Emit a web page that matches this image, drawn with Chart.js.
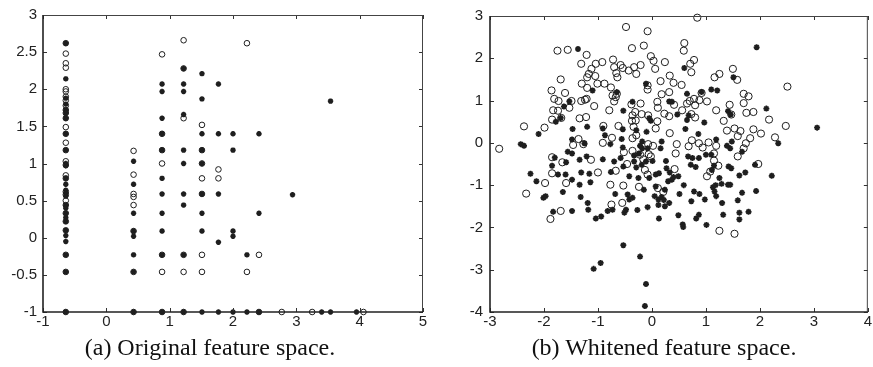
<!DOCTYPE html>
<html>
<head>
<meta charset="utf-8">
<script src="https://cdn.jsdelivr.net/npm/chart.js@4/dist/chart.umd.min.js"></script>
<style>
  html, body { margin: 0; padding: 0; background: #fff; }
  #wrap { position: relative; width: 873px; height: 367px; overflow: hidden; background: #fff; }
  canvas { position: absolute; top: 0; }
  .cap { position: absolute; top: 335px; width: 400px; text-align: center; font-family: "Liberation Serif", "Times New Roman", serif; font-size: 24px; line-height: 24px; color: #111; white-space: nowrap; }
</style>
</head>
<body>
<div id="wrap">
  <canvas id="c1" width="440" height="335" style="left:0px"></canvas>
  <canvas id="c2" width="433" height="335" style="left:440px"></canvas>
  <div class="cap" style="left:10px">(a) Original feature space.</div>
  <div class="cap" style="left:464px">(b) Whitened feature space.</div>
</div>
<script>
// ---------- tick labels ----------
const origXTicks = [-1, 0, 1, 2, 3, 4, 5];
const origYTicks = [-1, -0.5, 0, 0.5, 1, 1.5, 2, 2.5, 3];
const whitXTicks = [-3, -2, -1, 0, 1, 2, 3, 4];
const whitYTicks = [-4, -3, -2, -1, 0, 1, 2, 3];

// ---------- (a) original feature space : class "o" ----------
const origCircles = [
  [-0.64,2.62],[-0.64,2.48],[-0.64,2.35],[-0.64,2.29],[-0.64,2.0],[-0.64,1.97],[-0.64,1.90],[-0.64,1.85],
  [-0.64,1.78],[-0.64,1.72],[-0.64,1.68],[-0.64,1.61],[-0.64,1.49],[-0.64,1.40],[-0.64,1.28],[-0.64,1.18],
  [-0.64,1.03],[-0.64,0.98],[-0.64,0.84],[-0.64,0.80],[-0.64,0.62],[-0.64,0.58],[-0.64,0.50],[-0.64,0.44],
  [-0.64,0.33],[-0.64,0.22],[-0.64,0.10],[-0.64,-0.23],[-0.64,-0.46],[-0.64,-1.0],
  [0.43,1.17],[0.43,0.85],[0.43,0.59],[0.43,0.55],[0.43,0.44],[0.43,0.09],[0.43,-0.46],[0.43,-1.0],
  [0.88,2.47],[0.88,1.40],[0.88,1.18],[0.88,1.0],[0.88,-0.23],[0.88,-0.46],[0.88,-1.0],
  [1.22,2.66],[1.22,2.28],[1.22,1.61],[1.22,-0.23],[1.22,-0.46],[1.22,-1.0],
  [1.51,1.52],[1.51,1.18],[1.51,1.0],[1.51,0.80],[1.51,0.59],[1.51,-0.23],[1.51,-0.46],
  [1.77,0.92],[1.77,0.80],
  [2.22,2.62],[2.22,-0.46],
  [2.41,-0.23],[2.41,-1.0],
  [2.77,-1.0],[3.25,-1.0],[4.06,-1.0]
];
// ---------- (a) original feature space : class "*" ----------
const origStars = [
  [-0.64,2.62],[-0.64,2.14],[-0.64,1.88],[-0.64,1.80],[-0.64,1.72],[-0.64,1.68],[-0.64,1.61],[-0.64,1.40],
  [-0.64,1.18],[-0.64,1.0],[-0.64,0.97],[-0.64,0.80],[-0.64,0.72],[-0.64,0.64],[-0.64,0.60],[-0.64,0.56],
  [-0.64,0.44],[-0.64,0.40],[-0.64,0.33],[-0.64,0.27],[-0.64,0.22],[-0.64,0.10],[-0.64,0.03],[-0.64,-0.05],
  [-0.64,-0.23],[-0.64,-0.46],[-0.64,-1.0],
  [0.43,1.03],[0.43,0.72],[0.43,0.33],[0.43,0.09],[0.43,0.02],[0.43,-0.23],[0.43,-0.46],[0.43,-1.0],
  [0.88,2.07],[0.88,1.97],[0.88,1.61],[0.88,1.40],[0.88,1.18],[0.88,0.80],[0.88,0.59],[0.88,0.33],
  [0.88,0.09],[0.88,-0.23],[0.88,-1.0],
  [1.22,2.28],[1.22,2.07],[1.22,1.97],[1.22,1.66],[1.22,1.18],[1.22,1.0],[1.22,0.59],[1.22,0.44],
  [1.22,-0.23],[1.22,-1.0],
  [1.51,2.21],[1.51,1.87],[1.51,1.40],[1.51,1.18],[1.51,1.0],[1.51,0.59],[1.51,0.33],[1.51,0.09],[1.51,-1.0],
  [1.77,2.07],[1.77,1.40],[1.77,0.59],[1.77,-0.06],[1.77,-1.0],
  [2.0,1.40],[2.0,1.18],[2.0,0.09],[2.0,0.02],[2.0,-1.0],
  [2.22,-0.23],[2.22,-1.0],
  [2.41,1.40],[2.41,0.33],[2.41,-1.0],
  [2.94,0.58],[3.40,-1.0],[3.54,1.84],[3.54,-1.0],[3.95,-1.0]
];

// ---------- (b) whitened feature space : class "o" ----------
const whitCircles = [
  [0.84,2.96],[-0.48,2.74],[-0.08,2.64],[-0.15,2.30],[-0.37,2.24],[0.60,2.36],[0.59,2.18],[-1.75,2.18],
  [-1.56,2.20],[-1.21,2.08],[-0.02,2.05],[0.03,1.94],[-0.72,1.97],[-1.31,1.87],[-1.04,1.87],[-0.92,1.91],
  [-0.70,1.79],[-0.58,1.84],[-0.54,1.77],[-0.43,1.71],[-0.33,1.79],[-0.21,1.84],[-0.29,1.63],[0.06,1.75],
  [0.24,1.91],[0.71,1.87],[0.78,1.96],[0.73,1.67],[0.33,1.59],[-0.66,1.65],[-0.64,1.55],[-1.12,1.75],
  [-1.05,1.58],[-1.17,1.63],[-1.20,1.55],[-1.69,1.50],[-1.30,1.40],[-1.20,1.30],[-1.01,1.40],[-0.88,1.40],
  [-0.76,1.31],[-0.73,1.12],[-0.70,0.98],[-0.65,1.16],[-0.67,1.08],[0.16,1.46],[0.40,1.42],[0.55,1.37],
  [-0.08,1.36],[-0.08,1.26],[0.18,1.15],[0.32,1.20],[-1.86,1.24],[-1.61,1.18],[-1.81,1.04],[-1.73,0.99],
  [-1.83,0.77],[-1.74,0.76],[-1.85,0.55],[-1.68,0.59],[-2.37,0.39],[-1.99,0.36],[-1.53,0.83],[-1.49,0.99],
  [-1.31,0.99],[-1.24,1.02],[-1.21,1.04],[-1.22,0.61],[-1.34,0.58],[-1.07,0.87],[-0.79,0.77],[-0.38,0.91],
  [-0.21,0.93],[-0.19,0.68],[-0.36,0.65],[-0.31,0.73],[-0.37,0.52],[-0.30,0.53],[-0.34,0.38],[-0.29,0.18],
  [-0.36,0.11],[-0.07,0.65],[0.10,0.51],[0.07,0.34],[0.10,0.97],[0.11,0.83],[0.23,0.69],[0.32,0.63],
  [0.41,0.90],[0.33,0.23],[0.56,0.77],[0.65,0.93],[0.70,0.99],[0.78,1.04],[0.88,1.01],[0.80,0.89],
  [0.73,0.68],[0.80,0.60],[1.02,0.98],[0.92,1.18],[1.16,1.55],[1.25,1.63],[1.50,1.75],[1.58,1.49],
  [1.70,1.16],[1.79,1.10],[1.70,0.94],[1.75,0.71],[1.88,0.73],[1.44,0.90],[1.47,0.67],[1.33,0.52],
  [1.19,0.77],[1.39,0.29],[1.53,0.34],[1.64,0.28],[1.59,0.16],[1.88,0.32],[2.02,0.22],[1.74,-0.01],
  [1.70,-0.13],[1.59,-0.32],[2.17,0.55],[2.51,1.33],[2.48,0.40],[2.28,0.13],[1.82,0.11],[1.97,-0.50],
  [-2.83,-0.14],[-0.91,0.0],[-0.90,0.40],[-1.36,0.09],[-1.27,-0.03],[-1.46,-0.05],[-0.74,0.12],[-0.62,0.40],
  [-0.07,-0.03],[0.02,-0.07],[-0.06,-0.27],[-0.02,-0.32],[-0.16,-0.39],[-0.22,-0.28],[-0.13,-0.64],[-0.08,-0.75],
  [0.46,-0.03],[0.44,-0.25],[0.68,-0.08],[0.74,0.06],[0.87,-0.01],[0.94,-0.11],[1.05,0.01],[1.19,-0.07],
  [1.15,-0.25],[1.15,-0.42],[1.23,-0.54],[1.02,-0.79],[1.08,-0.68],[0.42,-0.62],[-1.85,-0.34],[-1.66,-0.46],
  [-1.85,-0.72],[-1.59,-0.95],[-1.98,-0.95],[-2.33,-1.20],[-1.69,-1.61],[-1.88,-1.80],[-1.00,-0.70],[-1.13,-0.40],
  [-0.67,-0.66],[-0.46,-0.50],[-0.53,-1.01],[-0.77,-0.99],[-0.24,-1.04],[0.11,-1.07],[0.21,-1.16],[-0.75,-1.46],
  [-0.55,-1.42],[1.25,-2.08],[1.53,-2.15],[-0.36,-0.19],[-0.52,-0.22]
];
// ---------- (b) whitened feature space : class "*" ----------
const whitStars = [
  [-1.37,2.22],[1.94,2.26],[0.60,1.77],[-0.11,1.40],[-1.10,1.24],[-0.65,1.20],[0.32,0.98],[0.65,1.16],
  [0.92,1.20],[1.10,1.26],[1.21,1.24],[1.51,1.55],[-0.36,0.97],[-0.53,0.76],[-1.63,0.86],[-1.53,0.98],
  [-1.69,0.59],[-1.78,0.50],[-2.10,0.21],[-2.43,-0.03],[-2.37,-0.07],[-1.47,0.33],[-1.20,0.38],[-0.91,0.34],
  [-0.87,0.18],[-0.54,0.32],[-0.29,0.30],[-0.56,0.09],[-0.77,-0.03],[-0.54,-0.11],[-1.48,0.08],[-1.25,-0.01],
  [-1.48,-0.25],[-1.56,-0.21],[-1.34,-0.40],[-1.21,-0.32],[-1.80,-0.35],[-1.59,-0.46],[-1.85,-0.54],[-2.25,-0.73],
  [-2.14,-0.91],[-2.01,-1.30],[-1.97,-1.26],[-1.83,-1.63],[-1.74,-0.75],[-1.60,-0.75],[-1.48,-0.87],[-1.34,-0.99],
  [-1.32,-1.28],[-1.65,-1.16],[-1.48,-1.61],[-1.19,-1.42],[-1.18,-1.58],[-1.31,-0.70],[-1.16,-0.73],[-1.14,-0.93],
  [-1.04,-1.79],[-0.94,-1.74],[-0.82,-1.61],[-0.73,-1.58],[-0.91,-0.39],[-0.76,-0.69],[-0.70,-0.44],[-0.58,-0.36],
  [-0.53,-0.56],[-0.42,-0.79],[-0.42,-1.34],[-0.36,-1.30],[-0.45,-1.22],[-0.51,-1.65],[-0.48,-1.58],[-0.27,-1.59],
  [-0.15,-1.11],[-0.33,-0.44],[-0.29,-0.58],[-0.25,-0.83],[-0.19,-0.52],[-0.18,-0.13],[-0.08,-0.13],[-0.11,-0.44],
  [0.01,-0.43],[-0.05,-0.83],[0.07,-0.75],[0.13,-0.72],[0.16,-0.13],[0.18,0.03],[0.05,-1.26],[0.12,-1.34],
  [0.12,-1.47],[0.13,-1.79],[-0.08,-1.52],[0.26,-0.43],[0.27,-0.60],[0.33,-0.70],[0.37,-0.87],[0.49,-0.79],
  [0.32,-1.42],[0.24,-1.11],[0.51,-1.21],[0.49,-1.71],[0.57,-1.93],[0.58,-1.99],[0.59,-1.00],[0.73,-1.38],
  [0.82,-1.79],[0.87,-1.70],[0.78,-1.15],[0.88,-1.21],[0.98,-1.34],[1.01,-1.94],[1.13,-1.05],[1.18,-1.00],
  [1.16,-1.15],[1.19,-1.26],[1.30,-1.42],[1.32,-1.70],[1.29,-0.97],[1.25,-0.83],[1.41,-0.99],[1.45,-0.99],
  [1.59,-1.36],[1.62,-1.65],[1.62,-1.81],[1.67,-1.18],[1.79,-1.63],[1.93,-1.14],[1.73,-0.70],[1.62,-0.77],
  [2.22,-0.78],[2.34,-0.01],[2.12,0.81],[3.06,0.36],[1.91,-0.52],[1.67,-0.21],[1.45,-0.13],[1.48,0.03],
  [1.39,-0.07],[1.42,-0.56],[1.47,-0.60],[1.41,0.75],[1.46,0.67],[1.19,0.08],[1.10,-0.28],[1.15,-0.54],
  [1.11,-0.64],[1.00,-0.28],[0.87,-0.36],[0.81,-0.57],[0.72,-0.52],[0.67,-0.32],[0.75,-0.36],[0.97,0.48],
  [0.86,0.21],[0.65,0.54],[0.62,0.33],[0.68,0.65],[0.37,0.97],[0.47,0.67],[-0.10,0.26],[-0.05,0.58],
  [-0.02,0.52],[-0.18,0.03],[-0.22,-0.07],[-0.24,-0.25],[-0.33,-0.30],[-0.68,-1.21],[-0.53,-2.42],[-0.22,-2.69],
  [-0.95,-2.84],[-1.08,-2.98],[-0.11,-3.34],[-0.13,-3.86],[0.24,-1.50],[0.30,-0.91],[0.40,-0.81],[0.07,-1.03],
  [0.18,-1.28],[0.22,-1.35]
];

const toPts = arr => arr.map(p => ({x: p[0], y: p[1]}));
const INK = '#1e1e1e';
const fmt = v => String(Math.round(v * 100) / 100);

const boxPlugin = {
  id: 'matlabBox',
  afterDraw(chart) {
    const ctx = chart.ctx;
    const a = chart.chartArea;
    const xs = chart.scales.x, ys = chart.scales.y;
    ctx.save();
    ctx.strokeStyle = '#333';
    ctx.lineWidth = 1;
    const L = 4;
    ctx.beginPath();
    xs.ticks.forEach(t => {
      const px = Math.round(xs.getPixelForValue(t.value)) + 0.5;
      ctx.moveTo(px, a.bottom); ctx.lineTo(px, a.bottom - L);
      ctx.moveTo(px, a.top); ctx.lineTo(px, a.top + L);
    });
    ys.ticks.forEach(t => {
      const py = Math.round(ys.getPixelForValue(t.value)) + 0.5;
      ctx.moveTo(a.left, py); ctx.lineTo(a.left + L, py);
      ctx.moveTo(a.right, py); ctx.lineTo(a.right - L, py);
    });
    ctx.stroke();
    ctx.strokeStyle = '#444';
    ctx.lineWidth = 1;
    ctx.beginPath();
    ctx.moveTo(a.left, a.top + 0.5); ctx.lineTo(a.right, a.top + 0.5);
    ctx.moveTo(a.right - 0.5, a.top); ctx.lineTo(a.right - 0.5, a.bottom);
    ctx.stroke();
    ctx.strokeStyle = '#222';
    ctx.lineWidth = 1.6;
    ctx.beginPath();
    ctx.moveTo(a.left, a.top); ctx.lineTo(a.left, a.bottom);
    ctx.lineTo(a.right, a.bottom);
    ctx.stroke();
    ctx.restore();
  }
};

function makeChart(id, circles, stars, xTicks, yTicks, opts) {
  const xmin = xTicks[0], xmax = xTicks[xTicks.length - 1];
  const ymin = yTicks[0], ymax = yTicks[yTicks.length - 1];
  const tickFont = { family: '"Liberation Sans", Arial, sans-serif', size: 15 };
  return new Chart(document.getElementById(id), {
    type: 'scatter',
    data: {
      datasets: [
        { data: toPts(circles), pointStyle: 'circle', pointRadius: opts.cr, pointBorderWidth: 1,
          borderColor: INK, backgroundColor: 'rgba(0,0,0,0)', pointHoverRadius: opts.cr, clip: false },
        { data: toPts(stars), pointStyle: 'star', pointRadius: opts.sr, pointBorderWidth: opts.sw,
          borderColor: INK, backgroundColor: INK, pointHoverRadius: opts.sr, clip: false }
      ]
    },
    options: {
      responsive: false,
      maintainAspectRatio: false,
      animation: false,
      events: [],
      layout: { padding: { top: 13, right: opts.padRight, left: 0, bottom: 0 } },
      plugins: { legend: { display: false }, tooltip: { enabled: false }, title: { display: false } },
      scales: {
        x: {
          type: 'linear', min: xmin, max: xmax,
          afterBuildTicks: s => { s.ticks = xTicks.map(v => ({ value: v })); },
          afterFit: s => { s.height = 23; },
          grid: { display: false, drawTicks: false },
          border: { display: false },
          ticks: { padding: 1, color: '#222', font: tickFont, maxRotation: 0, autoSkip: false, callback: fmt }
        },
        y: {
          type: 'linear', min: ymin, max: ymax,
          afterBuildTicks: s => { s.ticks = yTicks.map(v => ({ value: v })); },
          afterFit: s => { s.width = opts.yw; },
          grid: { display: false, drawTicks: false },
          border: { display: false },
          ticks: { padding: opts.ypad, color: '#222', font: tickFont, autoSkip: false, callback: fmt }
        }
      }
    },
    plugins: [boxPlugin]
  });
}

makeChart('c1', origCircles, origStars, origXTicks, origYTicks, { cr: 2.8, sr: 2.7, sw: 1.7, padRight: 17, yw: 43, ypad: 6 });
makeChart('c2', whitCircles, whitStars, whitXTicks, whitYTicks, { cr: 3.6, sr: 3.0, sw: 1.7, padRight: 3, yw: 50, ypad: 7 });
</script>
</body>
</html>
